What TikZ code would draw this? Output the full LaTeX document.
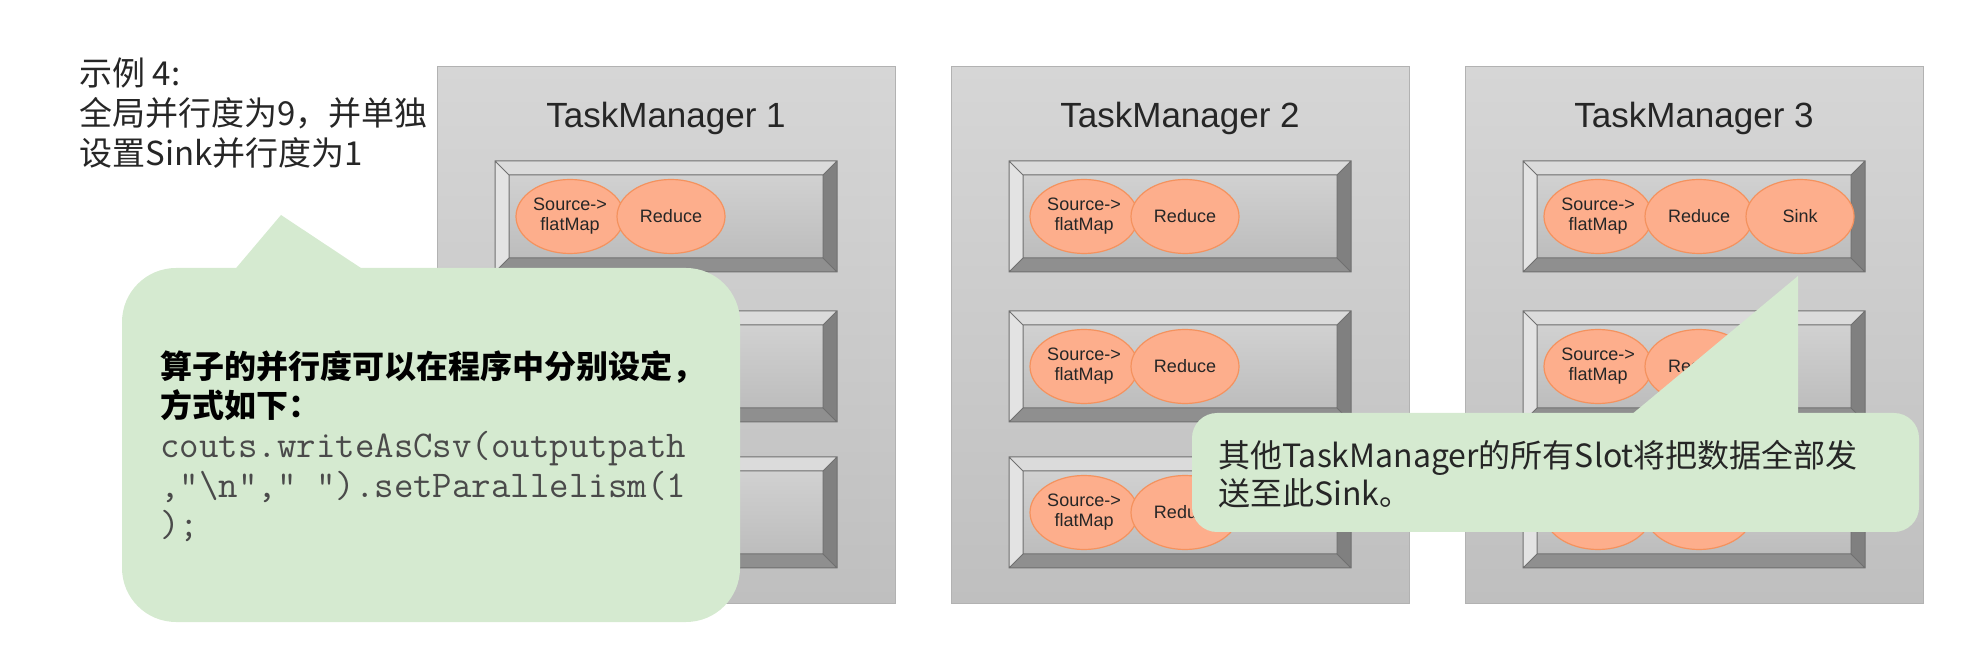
\documentclass[tikz,border=0pt]{standalone}
\usepackage{fontspec}
\setmainfont{Liberation Sans}
\newfontfamily\cjk{Noto Sans CJK SC}
\newfontfamily\codefont{Latin Modern Mono}
\usetikzlibrary{shapes.geometric}

\definecolor{tmtop}{HTML}{D6D6D6}
\definecolor{tmbot}{HTML}{BFBFBF}
\definecolor{slotline}{HTML}{707070}
\definecolor{opfill}{HTML}{FDAE8C}
\definecolor{opline}{HTML}{F4925E}
\definecolor{notegreen}{HTML}{D5EAD0}
\definecolor{codegray}{HTML}{4A4A4A}

\tikzset{
  tmbox/.style={draw=gray!60, line width=0.5pt, top color=tmtop, bottom color=tmbot},
  tmtitle/.style={font=\fontsize{17.5}{20}\selectfont, text=black!85},
  op/.style={ellipse, draw=opline, fill=opfill, line width=0.6pt, minimum width=54pt,
    minimum height=37pt, inner sep=0pt, align=center, text=black!85,
    font=\fontsize{9}{10}\selectfont},
  note/.style={fill=notegreen},
  code/.style={font=\codefont\fontsize{18.9}{19.75}\selectfont, text=codegray},
}

\begin{document}
\begin{tikzpicture}[x=0.5pt,y=-0.5pt]
  \useasboundingbox (0,0) rectangle (1968,656);

  % intro text
  \node[anchor=north west, align=left, inner sep=0pt, text=black!85,
    font=\cjk\fontsize{16.5}{20}\selectfont] (intro) at (79,57)
    {示例 4:\\全局并行度为9，并单独\\设置Sink并行度为1};

  % task managers with three slots each
  \foreach \t/\tx in {1/437,2/951,3/1465} {
    \draw[tmbox] (\tx,67) rectangle ++(458,536);
    \node[tmtitle] (tm\t) at (\tx+229,118) {TaskManager \t};
    \foreach \s/\sy in {1/161,2/311,3/457} {
      \pgfmathsetmacro\sx{\tx+58}
      \fill[gray!28] (\sx,\sy) -- ++(342,0) -- ++(-14,14) -- ++(-314,0) -- cycle;
      \fill[gray!22] (\sx,\sy) -- ++(14,14) -- ++(0,83) -- ++(-14,14) -- cycle;
      \fill[black!50] (\sx+342,\sy) -- ++(-14,14) -- ++(0,83) -- ++(14,14) -- cycle;
      \fill[black!44] (\sx,\sy+111) -- ++(342,0) -- ++(-14,-14) -- ++(-314,0) -- cycle;
      \shade[top color=black!18, bottom color=black!26] (\sx+14,\sy+14) rectangle ++(314,83);
      \draw[slotline, line width=0.5pt] (\sx,\sy) rectangle ++(342,111)
        (\sx+14,\sy+14) rectangle ++(314,83)
        (\sx,\sy) -- ++(14,14) (\sx+342,\sy) -- ++(-14,14)
        (\sx,\sy+111) -- ++(14,-14) (\sx+342,\sy+111) -- ++(-14,-14);
      \coordinate (slot\t\s) at (\sx,\sy+55.5);
    }
  }

  % operators (the ones hidden by the left note are left out)
  \foreach \t/\s in {1/1,2/1,2/2,2/3,3/1,3/2,3/3} {
    \node[op] (src\t\s) at ([xshift=37.5pt]slot\t\s) {Source->\\flatMap};
    \node[op] (red\t\s) at ([xshift=88pt]slot\t\s) {Reduce};
  }
  \node[op] (sink) at ([xshift=138.5pt]slot31) {Sink};

  % note on the left
  \fill[note] (226,280) -- (281,215) -- (379,280) -- cycle;
  \fill[note, rounded corners=27pt] (122,268) rectangle (740,622);
  \node[anchor=north west, align=left, inner sep=0pt,
    font=\cjk\bfseries\fontsize{16}{19.75}\selectfont] (howto) at (160,350)
    {算子的并行度可以在程序中分别设定，\\方式如下：};
  \node[code, anchor=north west, align=left, inner sep=0pt] (codeline)
    at (160,431)
    {couts.writeAsCsv(outputpath\\,”\textbackslash n”,” ”).setParallelism(1\\);};

  % note on the right
  \fill[note] (1619,425) -- (1798,276) -- (1798,425) -- cycle;
  \fill[note, rounded corners=12.5pt] (1192,413) rectangle (1919,532);
  \node[anchor=north west, align=left, inner sep=0pt, text=black!85,
    font=\cjk\fontsize{16}{19}\selectfont] (sendall) at (1218,440)
    {其他TaskManager的所有Slot将把数据全部发\\送至此Sink。};
\end{tikzpicture}
\end{document}
